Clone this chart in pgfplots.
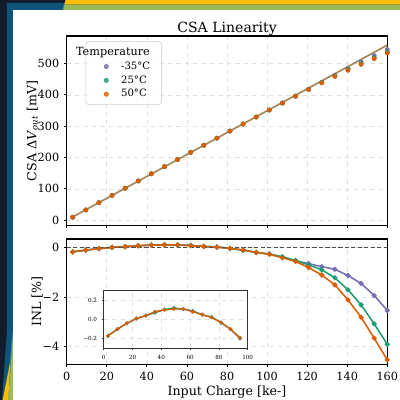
\documentclass[border=0pt]{standalone}
\usepackage{fontspec}
\setmainfont{DejaVu Serif}
\usepackage{pgfplots}
\usepackage{pgfplotstable}
\pgfplotsset{compat=1.18}
\definecolor{navy}{HTML}{121C2C}
\definecolor{slideblue}{HTML}{0E5579}
\definecolor{lightblue}{HTML}{2E7CB8}
\definecolor{slideyellow}{HTML}{FDBE00}
\definecolor{slidegreen}{HTML}{9BBB59}
\definecolor{cpurple}{HTML}{7570B3}
\definecolor{cgreen}{HTML}{1B9E77}
\definecolor{corange}{HTML}{D95F02}
\definecolor{fitline}{HTML}{A4885A}

% x [ke-], output [mV] and INL [%] per temperature (p=-35C, g=25C, o=50C)
\pgfplotstableread{
x      vp     vg     vo     ip     ig     io
3.00   9.52   9.52   9.52   -0.17  -0.17  -0.17
9.54   32.73  32.73  32.73  -0.10  -0.10  -0.10
16.08  55.90  55.90  55.90  -0.04  -0.04  -0.04
22.63  79.04  79.04  79.04  0.01   0.01   0.01
29.17  102.02 102.02 102.02 0.04   0.04   0.04
35.71  125.08 125.08 125.08 0.08   0.07   0.08
42.25  148.01 148.01 148.01 0.10   0.105  0.10
48.79  170.89 170.89 170.89 0.115  0.12   0.11
55.33  193.71 193.71 193.71 0.11   0.11   0.11
61.88  216.41 216.41 216.41 0.09   0.085  0.08
68.42  239.07 239.07 239.07 0.05   0.05   0.05
74.96  261.72 261.72 261.72 0.025  0.025  0.02
81.50  284.27 284.27 284.27 -0.03  -0.035 -0.03
88.04  306.70 306.70 306.70 -0.10  -0.10  -0.10
94.58  329.02 329.02 329.02 -0.20  -0.19  -0.19
101.13 351.49 351.49 351.43 -0.26  -0.26  -0.27
107.67 373.65 373.71 373.48 -0.38  -0.37  -0.41
114.21 395.63 395.69 395.47 -0.53  -0.52  -0.56
120.75 417.79 417.51 416.90 -0.65  -0.70  -0.81
127.29 439.94 439.22 438.05 -0.77  -0.90  -1.11
133.83 462.16 460.26 458.64 -0.88  -1.22  -1.51
140.38 483.62 480.39 478.10 -1.13  -1.71  -2.12
146.92 504.66 499.80 497.01 -1.45  -2.32  -2.82
153.46 524.75 518.34 515.10 -1.94  -3.09  -3.67
160.00 544.17 536.53 533.01 -2.55  -3.92  -4.55
}\csadata

\pgfplotsset{
  common/.style={
    scale only axis, anchor=south west,
    xmin=0, xmax=160,
    axis line style={line width=0.8pt},
    tick pos=left, tick align=outside,
    major tick length=1.8pt,
    tick style={line width=0.6pt, black},
    grid=major,
    grid style={dashed, line width=0.4pt, black!12},
    tick label style={font=\fontsize{8}{9}\selectfont},
    label style={font=\fontsize{9}{10}\selectfont},
    /pgf/number format/assume math mode=true,
    xtick={0,20,...,160},
    ylabel shift=-7pt,
  },
}

\begin{document}
\begin{tikzpicture}
\useasboundingbox (0,0) rectangle (10,10);
% slide background
\begin{scope}[x=0.025cm, y=-0.025cm, yshift=10cm]
\fill[navy] (0,0) rectangle (400,400);
\fill[slideblue] (7,3) -- (64,3) -- (62.5,10) -- (13,10) -- (13,330) -- (12.5,340) -- (8.3,400) -- (2,400) -- (7,330) -- cycle;
\fill[lightblue] (62.5,10) -- (64,3) -- (65.5,3) -- (64,10) -- cycle;
\fill[lightblue] (13,330) -- (13,340) -- (8.5,400) -- (7,400) -- (12,335) -- cycle;
\fill[slideyellow] (65.5,0) -- (400,0) -- (400,4.7) -- (64.5,4.7) -- cycle;
\fill[slidegreen] (64.5,4.7) -- (400,4.7) -- (400,10) -- (63.3,10) -- cycle;
\fill[slidegreen] (13,335) -- (13,400) -- (8.3,400) -- cycle;
\fill[slideyellow] (10.2,362) -- (8.3,400) -- (2.7,400) -- cycle;
\fill[white] (13,10) rectangle (400,400);
\end{scope}

% output vs charge
\begin{axis}[common,
  at={(1.6675cm,4.3575cm)},
  width=8.015cm, height=4.7425cm,
  ymin=-17.5, ymax=587.5,
  ytick={0,100,...,500},
  xticklabels={},
  ylabel={CSA Δ\textit{V}\textsubscript{\textit{out}} [mV]},
  title={CSA Linearity},
  title style={font=\fontsize{10}{11}\selectfont, yshift=-9.5pt},
  legend style={at={(0.059,0.972)}, anchor=north west,
    font=\fontsize{7.2}{8}\selectfont, draw=black!20, rounded corners=2pt,
    fill=white, fill opacity=0.8, text opacity=1,
    row sep=-1pt, column sep=7pt, inner xsep=6pt, inner ysep=2pt},
  legend cell align=left,
]
\addlegendimage{empty legend}
\addlegendentry{\hspace{-32pt}\fontsize{8}{9}\selectfont Temperature\hspace{-6pt}}
\addplot[only marks, mark=*, mark size=1.5pt, cpurple, mark options={fill=cpurple}] table[x=x, y=vp] {\csadata};
\addlegendentry{-35°C}
\addplot[only marks, mark=*, mark size=1.5pt, cgreen, mark options={fill=cgreen}] table[x=x, y=vg] {\csadata};
\addlegendentry{25°C}
\addplot[only marks, mark=*, mark size=1.5pt, corange, mark options={fill=corange}] table[x=x, y=vo] {\csadata};
\addlegendentry{50°C}
\addplot[forget plot, fitline, line width=1.2pt] coordinates {(3,10.47) (160,558.4)};
\end{axis}

% INL
\begin{axis}[common,
  at={(1.6675cm,0.8925cm)},
  width=8.015cm, height=3.1325cm,
  ymin=-4.73, ymax=0.35,
  ytick={-4,-2,0},
  yticklabels={−4,−2,0},
  xlabel={Input Charge [ke-]},
  xlabel shift=-3pt,
  ylabel={INL [\%]},
]
\addplot[cpurple, line width=1.1pt, mark=*, mark size=1.2pt] table[x=x, y=ip] {\csadata};
\addplot[cgreen, line width=1.1pt, mark=*, mark size=1.2pt] table[x=x, y=ig] {\csadata};
\addplot[corange, line width=1.1pt, mark=*, mark size=1.2pt] table[x=x, y=io] {\csadata};
\addplot[black!70, line width=0.9pt, dash pattern=on 3pt off 1.6pt] coordinates {(0,0) (160,0)};
\end{axis}

% inset, 0 to 100 ke-
\begin{axis}[common,
  at={(2.5925cm,1.2925cm)},
  width=3.6cm, height=1.44cm,
  xmin=0, xmax=100,
  ymin=-0.3, ymax=0.3,
  xtick={0,20,...,100},
  ytick={-0.2,0,0.2},
  yticklabels={−0.2,0.0,0.2},
  axis background/.style={fill=white},
  axis line style={line width=0.7pt, black!80},
  major tick length=1.2pt,
  tick style={line width=0.4pt, black!80},
  tick label style={font=\fontsize{4}{4.5}\selectfont},
  restrict x to domain=0:96,
]
\addplot[cpurple, line width=0.9pt, mark=*, mark size=0.8pt] table[x=x, y=ip] {\csadata};
\addplot[cgreen, line width=0.9pt, mark=*, mark size=0.8pt] table[x=x, y=ig] {\csadata};
\addplot[corange, line width=0.9pt, mark=*, mark size=0.8pt] table[x=x, y=io] {\csadata};
\addplot[black, line width=0.4pt, dash pattern=on 1.5pt off 1pt] coordinates {(0,0) (100,0)};
\end{axis}
\end{tikzpicture}
\end{document}
